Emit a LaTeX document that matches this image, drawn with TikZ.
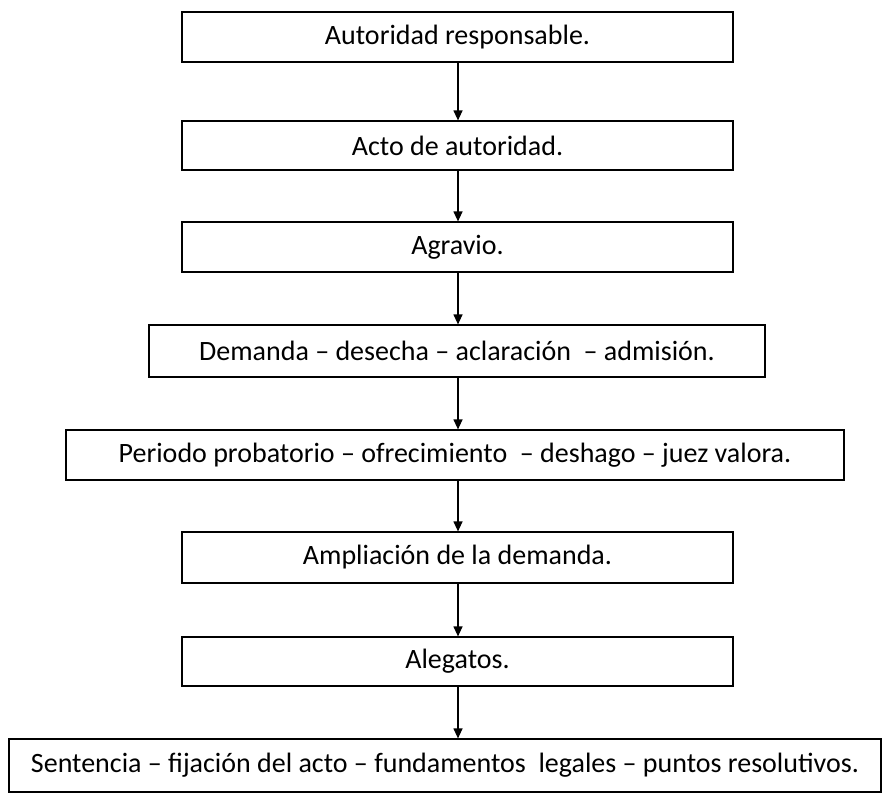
\documentclass[tikz,border=0pt]{standalone}
\usepackage{fontspec}
\setmainfont{Carlito}
\usetikzlibrary{arrows.meta}
\begin{document}
\begin{tikzpicture}[x=1pt,y=-1pt,
  stepbox/.style={draw=black,line width=1.2pt,inner sep=0pt,
    font=\fontsize{28}{32}\selectfont,anchor=center},
  flow/.style={line width=1.2pt,-{Triangle[length=10pt,width=9pt]}}]
  \useasboundingbox (0,0) rectangle (891,803);
  % boxes: centre, width and height in px
  \node[stepbox,minimum width=551pt,minimum height=50pt] (b1) at (457.5,37) {Autoridad responsable.};
  \node[stepbox,minimum width=551pt,minimum height=49pt] (b2) at (457.5,145.5) {Acto de autoridad.};
  \node[stepbox,minimum width=551pt,minimum height=50pt] (b3) at (457.5,247) {Agravio.};
  \node[stepbox,minimum width=616pt,minimum height=52pt] (b4) at (457,351) {Demanda – desecha – aclaración \ – admisión.};
  \node[stepbox,minimum width=778pt,minimum height=50pt] (b5) at (455,455) {Periodo probatorio – ofrecimiento \ – deshago – juez valora.};
  \node[stepbox,minimum width=551pt,minimum height=51pt] (b6) at (457.5,557.5) {Ampliación de la demanda.};
  \node[stepbox,minimum width=551pt,minimum height=49pt] (b7) at (457.5,661.5) {Alegatos.};
  \node[stepbox,minimum width=872pt,minimum height=53pt] (b8) at (445,765.5) {Sentencia – fijación del acto – fundamentos \ legales – puntos resolutivos.};
  % connectors
  \draw[flow] (b1.south -| 458,0) -- (b2.north -| 458,0);
  \draw[flow] (b2.south -| 458,0) -- (b3.north -| 458,0);
  \draw[flow] (b3.south -| 458,0) -- (b4.north -| 458,0);
  \draw[flow] (b4.south -| 458,0) -- (b5.north -| 458,0);
  \draw[flow] (b5.south -| 458,0) -- (b6.north -| 458,0);
  \draw[flow] (b6.south -| 458,0) -- (b7.north -| 458,0);
  \draw[flow] (b7.south -| 458,0) -- (b8.north -| 458,0);
\end{tikzpicture}
\end{document}
